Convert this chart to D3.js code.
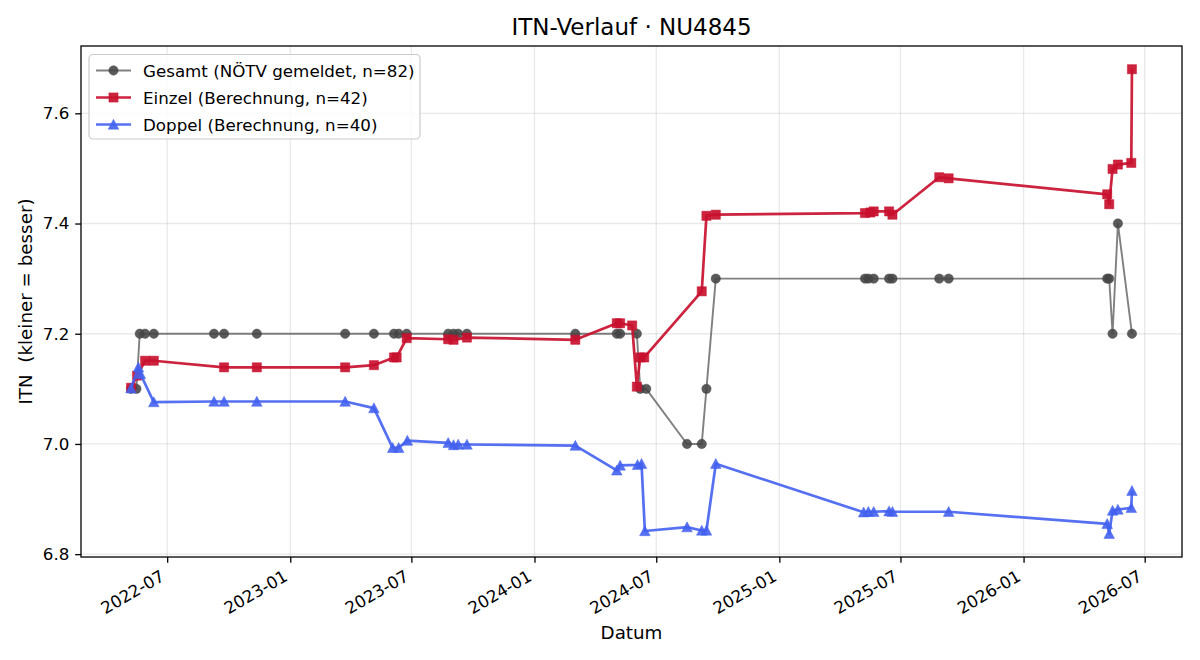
<!DOCTYPE html>
<html><head><meta charset="utf-8">
<script src="https://cdn.jsdelivr.net/npm/d3@7"></script>
<style>body{margin:0;background:#fff} text{font-family:"DejaVu Sans",sans-serif;fill:#000;white-space:pre}</style>
</head><body><svg id="c" width="1200" height="660"></svg>
<script>
// ---- data ----
const gesamtDates = ["2022-05-08","2022-05-16","2022-05-21","2022-05-29","2022-06-11","2022-09-09","2022-09-24","2022-11-12","2023-03-24","2023-05-06","2023-06-05","2023-06-12","2023-06-24","2023-08-25","2023-09-02","2023-09-09","2023-09-22","2024-03-02","2024-05-03","2024-05-08","2024-06-02","2024-06-07","2024-06-16","2024-08-16","2024-09-07","2024-09-14","2024-09-28","2025-05-09","2025-05-14","2025-05-22","2025-06-14","2025-06-19","2025-08-28","2025-09-11","2026-05-06","2026-05-09","2026-05-14","2026-05-22","2026-06-12"];
const gesamtValues = [7.10,7.10,7.20,7.20,7.20,7.20,7.20,7.20,7.20,7.20,7.20,7.20,7.20,7.20,7.20,7.20,7.20,7.20,7.20,7.20,7.20,7.10,7.10,7.00,7.00,7.10,7.30,7.30,7.30,7.30,7.30,7.30,7.30,7.30,7.30,7.30,7.20,7.40,7.20];

const einzelDates = ["2022-05-08","2022-05-17","2022-05-29","2022-06-11","2022-09-24","2022-11-12","2023-03-24","2023-05-06","2023-06-05","2023-06-09","2023-06-24","2023-08-25","2023-09-02","2023-09-22","2024-03-02","2024-05-03","2024-05-08","2024-05-26","2024-06-02","2024-06-07","2024-06-13","2024-09-07","2024-09-14","2024-09-28","2025-05-09","2025-05-17","2025-05-22","2025-06-14","2025-06-19","2025-08-28","2025-09-11","2026-05-06","2026-05-09","2026-05-14","2026-05-22","2026-06-11","2026-06-12"];
const einzelValues = [7.102,7.124,7.151,7.151,7.139,7.139,7.139,7.143,7.157,7.157,7.192,7.190,7.189,7.193,7.189,7.219,7.219,7.215,7.104,7.157,7.157,7.277,7.414,7.416,7.419,7.420,7.422,7.422,7.416,7.484,7.482,7.453,7.435,7.499,7.507,7.510,7.680];

const doppelDates = ["2022-05-08","2022-05-19","2022-05-22","2022-06-11","2022-09-09","2022-09-24","2022-11-12","2023-03-24","2023-05-06","2023-06-03","2023-06-12","2023-06-25","2023-08-25","2023-09-02","2023-09-09","2023-09-22","2024-03-02","2024-05-03","2024-05-08","2024-06-03","2024-06-09","2024-06-14","2024-08-16","2024-09-07","2024-09-14","2024-09-28","2025-05-07","2025-05-14","2025-05-22","2025-06-14","2025-06-19","2025-09-11","2026-05-06","2026-05-09","2026-05-14","2026-05-22","2026-06-11","2026-06-12"];
const doppelValues = [7.101,7.139,7.127,7.076,7.077,7.077,7.077,7.077,7.065,6.993,6.993,7.006,7.002,6.998,6.999,6.999,6.997,6.952,6.961,6.962,6.964,6.842,6.849,6.843,6.843,6.964,6.876,6.877,6.877,6.878,6.877,6.877,6.855,6.837,6.879,6.881,6.884,6.915];

const yTickValues = [6.8, 7.0, 7.2, 7.4, 7.6];
const titleText = "ITN-Verlauf · NU4845";
const xLabel = "Datum";
const yLabel = "ITN  (kleiner = besser)";
const seriesNames = ["Gesamt (NÖTV gemeldet, n=82)", "Einzel (Berechnung, n=42)", "Doppel (Berechnung, n=40)"];

// ---- build ----
const parse = d3.timeParse("%Y-%m-%d");
const mk = (ds, vs) => ds.map((d, i) => ({date: parse(d), v: vs[i]}));
const series = [
  {name: seriesNames[0], data: mk(gesamtDates, gesamtValues), color: "#444", lineColor: "#555", lineOp: 0.75, mOp: 0.88, lw: 1.9, marker: "circle", ms: 9.4},
  {name: seriesNames[1], data: mk(einzelDates, einzelValues), color: "#c8102e", lineColor: "#c8102e", lineOp: 0.92, mOp: 0.92, lw: 2.7, marker: "square", ms: 9.2},
  {name: seriesNames[2], data: mk(doppelDates, doppelValues), color: "#4361ee", lineColor: "#4361ee", lineOp: 0.9, mOp: 0.9, lw: 2.7, marker: "triangle", ms: 9.4}
];

const L = 81, R = 1182, T = 46, B = 557;
const all = series.flatMap(s => s.data);
const dExt = d3.extent(all, d => d.date.getTime());
const dSpan = dExt[1] - dExt[0];
const x = d3.scaleTime().domain([new Date(dExt[0] - 0.05 * dSpan), new Date(dExt[1] + 0.05 * dSpan)]).range([L, R]);
const vExt = d3.extent(all, d => d.v);
const vSpan = vExt[1] - vExt[0];
const y = d3.scaleLinear().domain([vExt[0] - 0.05 * vSpan, vExt[1] + 0.05 * vSpan]).range([B, T]);

const svg = d3.select("#c");
svg.append("rect").attr("width", 1200).attr("height", 660).attr("fill", "#fff");

const xTicks = x.ticks(d3.timeMonth.every(6)).filter(d => d.getMonth() === 0 || d.getMonth() === 6);

// grid
const grid = svg.append("g");
grid.selectAll(".gx").data(xTicks).join("line")
  .attr("x1", d => x(d)).attr("x2", d => x(d)).attr("y1", T).attr("y2", B)
  .attr("stroke", "#b0b0b0").attr("stroke-opacity", 0.28).attr("stroke-width", 1.3);
grid.selectAll(".gy").data(yTickValues).join("line")
  .attr("x1", L).attr("x2", R).attr("y1", d => y(d)).attr("y2", d => y(d))
  .attr("stroke", "#b0b0b0").attr("stroke-opacity", 0.28).attr("stroke-width", 1.3);

function markerPath(type, sz) {
  const h = sz / 2;
  if (type === "circle") return d3.symbol(d3.symbolCircle, Math.PI * h * h)();
  if (type === "square") return `M${-h},${-h}H${h}V${h}H${-h}Z`;
  return `M0,${-h-0.6}L${h+0.6},${h}L${-h-0.6},${h}Z`;
}

// lines + markers
const line = d3.line().x(d => x(d.date)).y(d => y(d.v));
series.forEach(s => {
  const g = svg.append("g");
  g.append("path").datum(s.data).attr("d", line).attr("fill", "none")
    .attr("stroke", s.lineColor).attr("stroke-opacity", s.lineOp).attr("stroke-width", s.lw)
    .attr("stroke-linejoin", "round");
  g.selectAll(".m").data(s.data).join("path")
    .attr("transform", d => `translate(${x(d.date)},${y(d.v)})`)
    .attr("d", markerPath(s.marker, s.ms))
    .attr("fill", s.color).attr("fill-opacity", s.mOp)
    .attr("stroke", s.color).attr("stroke-opacity", s.mOp * 0.5).attr("stroke-width", 1);
});

// axes
const fs = 16.7;
const xAxis = svg.append("g").attr("transform", `translate(0,${B})`)
  .call(d3.axisBottom(x).tickValues(xTicks).tickFormat(d3.timeFormat("%Y-%m")).tickSize(5.8).tickSizeOuter(0));
xAxis.select(".domain").remove();
xAxis.selectAll(".tick line").attr("stroke", "#000").attr("stroke-width", 1.3);
xAxis.selectAll(".tick text")
  .attr("font-size", fs).attr("font-family", "DejaVu Sans").attr("fill", "#000")
  .attr("text-anchor", "end").attr("x", 0).attr("y", -0.24 * fs).attr("dy", null)
  .attr("transform", `translate(0,${11.6 + 0.866 * fs}) rotate(-30)`);

const yAxis = svg.append("g").attr("transform", `translate(${L},0)`)
  .call(d3.axisLeft(y).tickValues(yTickValues).tickFormat(d3.format(".1f")).tickSize(5.8).tickPadding(5.8).tickSizeOuter(0));
yAxis.select(".domain").remove();
yAxis.selectAll(".tick line").attr("stroke", "#000").attr("stroke-width", 1.3);
yAxis.selectAll(".tick text").attr("font-size", fs).attr("font-family", "DejaVu Sans").attr("fill", "#000");

// frame
svg.append("rect").attr("x", L).attr("y", T).attr("width", R - L).attr("height", B - T)
  .attr("fill", "none").attr("stroke", "#000").attr("stroke-width", 1.3);

// titles
svg.append("text").attr("x", (L + R) / 2).attr("y", 35).attr("text-anchor", "middle")
  .attr("font-size", 23).text(titleText);
svg.append("text").attr("x", (L + R) / 2).attr("y", 639).attr("text-anchor", "middle")
  .attr("font-size", 18.3).text(xLabel);
svg.append("text").attr("transform", `translate(32,${(T + B) / 2}) rotate(-90)`).attr("text-anchor", "middle")
  .attr("font-size", 18.3).text(yLabel);

// legend
const lg = svg.append("g");
lg.append("rect").attr("x", 89).attr("y", 54.5).attr("width", 331).attr("height", 84.5).attr("rx", 4)
  .attr("fill", "#fff").attr("fill-opacity", 0.8).attr("stroke", "#ccc").attr("stroke-width", 1.2);
series.forEach((s, i) => {
  const cy = 70.5 + i * 27;
  lg.append("line").attr("x1", 96).attr("x2", 131).attr("y1", cy).attr("y2", cy)
    .attr("stroke", s.lineColor).attr("stroke-opacity", s.lineOp).attr("stroke-width", s.lw);
  lg.append("path").attr("transform", `translate(113.5,${cy})`).attr("d", markerPath(s.marker, s.ms))
    .attr("fill", s.color).attr("fill-opacity", s.mOp).attr("stroke", s.color).attr("stroke-opacity", s.mOp * 0.5).attr("stroke-width", 1);
  lg.append("text").attr("x", 143).attr("y", cy + 6).attr("font-size", fs).text(s.name);
});
</script></body></html>
